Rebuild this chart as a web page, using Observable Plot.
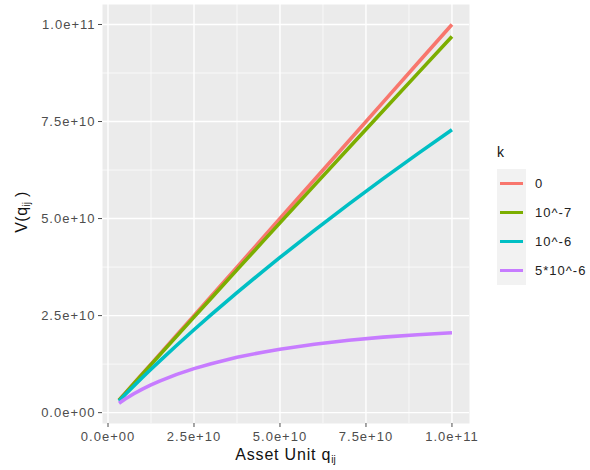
<!DOCTYPE html>
<html>
<head>
<meta charset="utf-8">
<script src="https://cdn.jsdelivr.net/npm/d3@7"></script>
<script src="https://cdn.jsdelivr.net/npm/@observablehq/plot@0.6"></script>
<style>
  html, body { margin: 0; padding: 0; background: #fff; }
  #wrap { position: relative; width: 590px; height: 470px; font-family: "Liberation Sans", Arial, sans-serif; }
  #wrap svg text { letter-spacing: 1px; }
  .xtitle { position: absolute; left: 102px; width: 367px; top: 446px; text-align: center; font-size: 16px; letter-spacing: 0.8px; color: #111; white-space: nowrap; }
  .ytitle { position: absolute; left: 22px; top: 212px; transform: translate(-50%, -50%) rotate(-90deg); font-size: 16px; letter-spacing: 0.5px; color: #111; white-space: nowrap; }
  sub { font-size: 10px; vertical-align: -3px; line-height: 0; letter-spacing: 0; }
  .ltitle { position: absolute; left: 497px; top: 144px; font-size: 14px; color: #111; }
  .lkey { position: absolute; left: 497px; width: 29px; height: 29px; background: #F2F2F2; }
  .lkey span { position: absolute; left: 3px; right: 3px; top: 12.8px; height: 3.6px; }
  .llab { position: absolute; left: 535px; font-size: 13px; letter-spacing: 1px; color: #222; line-height: 29px; height: 29px; }
</style>
</head>
<body>
<div id="wrap"></div>
<script>
// Categories (k values)
const kLabels = ["0", "10^-7", "10^-6", "5*10^-6"];
const kColors = ["#F8766D", "#7CAE00", "#00BFC4", "#C77CFF"];

// Asset unit q (x values)
const q = [3.2e9, 5e9, 7.5e9, 1e10, 1.25e10, 1.5e10, 2e10, 2.5e10, 3e10, 3.75e10, 4.5e10, 5e10, 6e10, 7e10, 8e10, 9e10, 1e11];

// V(q) per k series
const vK0    = [3.2e9, 5e9, 7.5e9, 1e10, 1.25e10, 1.5e10, 2e10, 2.5e10, 3e10, 3.75e10, 4.5e10, 5e10, 6e10, 7e10, 8e10, 9e10, 1e11];
const vK1e7  = [3.18e9, 4.96e9, 7.44e9, 9.90e9, 1.236e10, 1.482e10, 1.972e10, 2.461e10, 2.948e10, 3.678e10, 4.406e10, 4.889e10, 5.855e10, 6.817e10, 7.777e10, 8.734e10, 9.689e10];
const vK1e6  = [3.02e9, 4.66e9, 6.88e9, 9.05e9, 1.118e10, 1.327e10, 1.736e10, 2.135e10, 2.523e10, 3.090e10, 3.640e10, 3.998e10, 4.697e10, 5.373e10, 6.030e10, 6.667e10, 7.289e10];
const vK5e6  = [2.41e9, 3.51e9, 4.86e9, 6.07e9, 7.15e9, 8.13e9, 9.86e9, 1.134e10, 1.262e10, 1.424e10, 1.558e10, 1.635e10, 1.763e10, 1.865e10, 1.945e10, 2.008e10, 2.058e10];

// Axis ticks
const xTicks = [0, 2.5e10, 5e10, 7.5e10, 1e11];
const xTickLabels = ["0.0e+00", "2.5e+10", "5.0e+10", "7.5e+10", "1.0e+11"];
const yTicks = [0, 2.5e10, 5e10, 7.5e10, 1e11];
const yTickLabels = ["0.0e+00", "2.5e+10", "5.0e+10", "7.5e+10", "1.0e+11"];
const minorTicks = [1.25e10, 3.75e10, 6.25e10, 8.75e10];

const series = [vK0, vK1e7, vK1e6, vK5e6];
const data = [];
series.forEach((vals, s) => vals.forEach((v, i) => data.push({q: q[i], v, k: kLabels[s]})));

const chart = Plot.plot({
  width: 590,
  height: 470,
  marginLeft: 102,
  marginRight: 121,
  marginTop: 4,
  marginBottom: 47,
  style: {fontFamily: "Liberation Sans, Arial, sans-serif", background: "transparent"},
  x: {domain: [-1.6e9, 1.051e11]},
  y: {domain: [-2.8e9, 1.0515e11]},
  color: {domain: kLabels, range: kColors},
  marks: [
    Plot.frame({fill: "#EBEBEB", stroke: null}),
    Plot.ruleX(minorTicks, {stroke: "#fff", strokeWidth: 0.7}),
    Plot.ruleY(minorTicks, {stroke: "#fff", strokeWidth: 0.7}),
    Plot.ruleX(xTicks, {stroke: "#fff", strokeWidth: 1.4}),
    Plot.ruleY(yTicks, {stroke: "#fff", strokeWidth: 1.4}),
    Plot.line(data, {x: "q", y: "v", z: "k", stroke: "k", strokeWidth: 3.6, strokeLinecap: "butt"}),
    Plot.axisX(xTicks, {tickFormat: d => xTickLabels[xTicks.indexOf(d)], tickSize: 4, tickPadding: 4, fontSize: 13, color: "#4D4D4D", label: null}),
    Plot.axisY(yTicks, {tickFormat: d => yTickLabels[yTicks.indexOf(d)], tickSize: 4, tickPadding: 3, fontSize: 13, color: "#4D4D4D", label: null})
  ]
});

const wrap = document.getElementById("wrap");
wrap.appendChild(chart);

const xt = document.createElement("div");
xt.className = "xtitle";
xt.innerHTML = "Asset Unit q<sub>ij</sub>";
wrap.appendChild(xt);

const yt = document.createElement("div");
yt.className = "ytitle";
yt.innerHTML = "V(q<sub>ij</sub> )";
wrap.appendChild(yt);

const lt = document.createElement("div");
lt.className = "ltitle";
lt.textContent = "k";
wrap.appendChild(lt);

kLabels.forEach((lab, i) => {
  const key = document.createElement("div");
  key.className = "lkey";
  key.style.top = (169 + i * 29) + "px";
  const sw = document.createElement("span");
  sw.style.background = kColors[i];
  key.appendChild(sw);
  wrap.appendChild(key);
  const l = document.createElement("div");
  l.className = "llab";
  l.style.top = (169 + i * 29) + "px";
  l.textContent = lab;
  wrap.appendChild(l);
});
</script>
</body>
</html>
